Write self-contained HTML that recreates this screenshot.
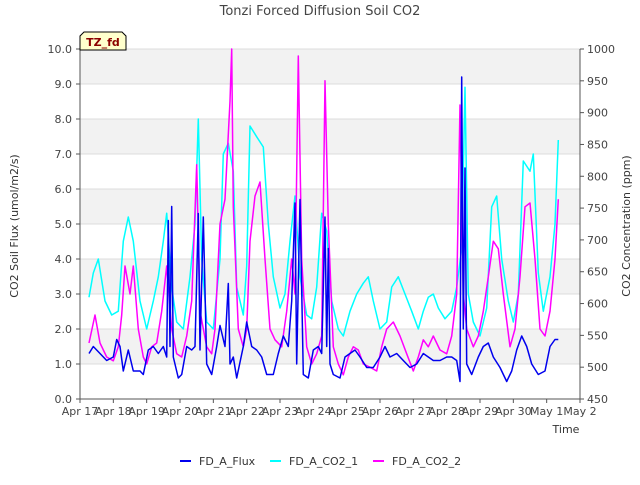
<!DOCTYPE html>
<html><head><meta charset="utf-8"><style>
body{margin:0;background:#fff;font-family:"Liberation Sans","DejaVu Sans",sans-serif}
svg text{font-family:"DejaVu Sans","Liberation Sans",sans-serif}
</style></head><body>
<svg id="chart" width="640" height="480" xmlns="http://www.w3.org/2000/svg">
<text x="320" y="15" text-anchor="middle" font-size="13" fill="#444">Tonzi Forced Diffusion Soil CO2</text>
<g id="bands"></g>
<g id="grid"></g>
<g id="series"></g>
<g id="axes"></g>
<text transform="translate(18,226) rotate(-90)" text-anchor="middle" font-size="11" fill="#333">CO2 Soil Flux (umol/m2/s)</text>
<text transform="translate(630,226) rotate(-90)" text-anchor="middle" font-size="11" fill="#333">CO2 Concentration (ppm)</text>
<text x="566" y="433" text-anchor="middle" font-size="11" fill="#333">Time</text>
<g>
<path d="M80,50 L80,36 L84,32 L122,32 L126,36 L126,50 Z" fill="#ffffcc" stroke="#000" stroke-width="1"/>
<text x="103" y="46" text-anchor="middle" font-size="11" font-weight="bold" fill="#8b0000">TZ_fd</text>
</g>
<g id="legend"></g>
</svg>
<script>
const xTickLabels=["Apr 17","Apr 18","Apr 19","Apr 20","Apr 21","Apr 22","Apr 23","Apr 24","Apr 25","Apr 26","Apr 27","Apr 28","Apr 29","Apr 30","May 1","May 2"];
const yTicks=[0,1,2,3,4,5,6,7,8,9,10];
const y2Ticks=[450,500,550,600,650,700,750,800,850,900,950,1000];
const fluxT=[0.27,0.4,0.6,0.8,1.0,1.1,1.2,1.3,1.45,1.6,1.8,1.9,2.05,2.2,2.35,2.5,2.6,2.65,2.7,2.75,2.8,2.95,3.05,3.2,3.35,3.45,3.55,3.6,3.7,3.8,3.95,4.1,4.2,4.35,4.45,4.5,4.6,4.7,4.9,5.0,5.15,5.3,5.45,5.6,5.8,5.95,6.1,6.25,6.35,6.45,6.5,6.6,6.7,6.85,7.0,7.15,7.25,7.35,7.4,7.45,7.5,7.6,7.8,7.95,8.1,8.25,8.4,8.6,8.8,9.0,9.15,9.3,9.5,9.7,9.9,10.1,10.3,10.45,10.6,10.8,11.0,11.15,11.3,11.4,11.45,11.5,11.55,11.6,11.75,11.95,12.1,12.25,12.4,12.6,12.8,12.95,13.1,13.25,13.4,13.55,13.75,13.95,14.1,14.25,14.35];
const fluxV=[1.3,1.5,1.3,1.1,1.2,1.7,1.5,0.8,1.4,0.8,0.8,0.7,1.4,1.5,1.3,1.5,1.2,5.1,1.5,5.5,1.2,0.6,0.7,1.5,1.4,1.5,5.3,1.4,5.2,1.0,0.7,1.5,2.1,1.5,3.3,1.0,1.2,0.6,1.5,2.2,1.5,1.4,1.2,0.7,0.7,1.3,1.8,1.5,2.8,5.6,1.0,5.7,0.7,0.6,1.4,1.5,1.3,5.2,1.5,4.3,1.0,0.7,0.6,1.2,1.3,1.4,1.2,0.9,0.9,1.2,1.5,1.2,1.3,1.1,0.9,1.0,1.3,1.2,1.1,1.1,1.2,1.2,1.1,0.5,9.2,2.0,6.6,1.0,0.7,1.2,1.5,1.6,1.2,0.9,0.5,0.8,1.4,1.8,1.5,1.0,0.7,0.8,1.5,1.7,1.7];
const co2aT=[0.27,0.4,0.55,0.75,0.95,1.15,1.3,1.45,1.6,1.8,2.0,2.2,2.35,2.5,2.6,2.75,2.9,3.1,3.3,3.45,3.55,3.65,3.8,4.0,4.2,4.3,4.45,4.6,4.7,4.9,5.0,5.1,5.3,5.5,5.65,5.8,6.0,6.15,6.3,6.45,6.6,6.8,6.95,7.1,7.25,7.4,7.55,7.75,7.9,8.1,8.3,8.5,8.65,8.8,9.0,9.2,9.35,9.55,9.75,9.95,10.15,10.3,10.45,10.6,10.75,10.95,11.15,11.3,11.45,11.55,11.65,11.8,12.0,12.2,12.35,12.5,12.65,12.85,13.0,13.15,13.3,13.5,13.6,13.75,13.9,14.1,14.25,14.35];
const co2aV=[610,648,670,604,582,588,698,736,698,604,560,604,642,698,742,626,571,560,642,725,890,670,571,560,670,835,852,808,626,582,659,879,862,846,725,642,593,615,698,769,642,582,576,626,742,714,604,560,549,588,615,632,642,604,560,571,626,642,615,588,560,588,610,615,593,576,588,626,686,940,615,571,549,593,752,769,670,604,571,615,824,808,835,648,588,642,725,857];
const co2bT=[0.27,0.45,0.6,0.8,1.0,1.15,1.25,1.35,1.5,1.6,1.75,1.9,2.0,2.15,2.3,2.45,2.6,2.75,2.9,3.05,3.2,3.35,3.5,3.6,3.8,3.95,4.05,4.2,4.35,4.5,4.55,4.6,4.75,4.9,5.0,5.1,5.25,5.4,5.55,5.7,5.85,6.05,6.2,6.35,6.45,6.55,6.65,6.8,6.95,7.1,7.25,7.35,7.45,7.6,7.75,7.9,8.05,8.2,8.35,8.5,8.7,8.9,9.05,9.2,9.4,9.6,9.8,10.0,10.15,10.3,10.45,10.6,10.8,11.0,11.15,11.3,11.4,11.5,11.6,11.8,11.95,12.1,12.25,12.4,12.55,12.7,12.9,13.05,13.2,13.35,13.5,13.65,13.8,13.95,14.1,14.25,14.35];
const co2bV=[538,582,538,516,510,532,582,659,615,659,560,516,505,532,538,588,659,560,521,516,549,604,818,588,532,521,560,725,764,918,1000,752,560,532,560,698,769,791,670,560,543,532,588,670,615,989,670,532,505,521,549,950,725,532,505,488,516,532,527,505,500,494,532,560,571,549,521,494,516,543,532,549,527,521,549,615,912,615,560,532,549,588,642,698,686,615,532,560,642,752,758,670,560,549,588,670,764];

const X0=80,X1=580,Y0=399,Y1=49;
const xS=t=>X0+t*(X1-X0)/15;
const yS=v=>Y0-v*(Y0-Y1)/10;
const y2S=p=>Y0-(p-450)*(Y0-Y1)/550;
const NS="http://www.w3.org/2000/svg";
function mk(tag,attrs,parent,txt){const e=document.createElementNS(NS,tag);for(const k in attrs)e.setAttribute(k,attrs[k]);if(txt!==undefined)e.textContent=txt;parent.appendChild(e);return e;}
const bands=document.getElementById('bands'),grid=document.getElementById('grid'),axes=document.getElementById('axes'),series=document.getElementById('series'),legend=document.getElementById('legend');
mk('rect',{x:X0,y:Y1,width:X1-X0,height:Y0-Y1,fill:'#fff'},bands);
for(let v=1;v<10;v+=2){const r=mk('rect',{x:X0,y:yS(v+1),width:X1-X0,height:yS(v)-yS(v+1),fill:'#f2f2f2'},bands);

}
yTicks.forEach(v=>{const l=mk('line',{x1:X0,x2:X1,y1:yS(v),y2:yS(v),stroke:'#dcdcdc','stroke-width':1},grid);


mk('line',{x1:X0-4,x2:X0,y1:yS(v),y2:yS(v),stroke:'#555'},axes);
const t=mk('text',{x:X0-8,y:yS(v)+4,'text-anchor':'end','font-size':11,fill:'#444'},axes,v.toFixed(1));

});
y2Ticks.forEach(p=>{mk('line',{x1:X1,x2:X1+4,y1:y2S(p),y2:y2S(p),stroke:'#555'},axes);
const t=mk('text',{x:X1+7,y:y2S(p)+4,'font-size':11,fill:'#444'},axes,String(p));

});
xTickLabels.forEach((s,i)=>{mk('line',{x1:xS(i),x2:xS(i),y1:Y0,y2:Y0+4,stroke:'#555'},axes);
const t=mk('text',{x:xS(i),y:Y0+16,'text-anchor':'middle','font-size':11,fill:'#444'},axes,s);

});
mk('line',{x1:X0,x2:X0,y1:Y1,y2:Y0,stroke:'#555'},axes);
mk('line',{x1:X1,x2:X1,y1:Y1,y2:Y0,stroke:'#555'},axes);
mk('line',{x1:X0,x2:X1,y1:Y0,y2:Y0,stroke:'#555'},axes);
function line(T,V,ys,color,name){const d=T.map((t,i)=>(i?'L':'M')+xS(t).toFixed(1)+','+ys(V[i]).toFixed(1)).join('');
const p=mk('path',{d:d,fill:'none',stroke:color,'stroke-width':1.5,'stroke-linejoin':'round'},series);

}
line(co2aT,co2aV,y2S,'#00ffff','line-fd-a-co2-1');
line(co2bT,co2bV,y2S,'#ff00ff','line-fd-a-co2-2');
line(fluxT,fluxV,yS,'#0000ee','line-fd-a-flux');
const leg=[["FD_A_Flux","#0000ee",180],["FD_A_CO2_1","#00ffff",270],["FD_A_CO2_2","#ff00ff",373]];
leg.forEach(([n,c,x])=>{const g=mk('g',{},legend);


mk('line',{x1:x,x2:x+11,y1:461,y2:461,stroke:c,'stroke-width':2},g);
mk('text',{x:x+19,y:465,'font-size':11,fill:'#333'},g,n);});
</script>
</body></html>
